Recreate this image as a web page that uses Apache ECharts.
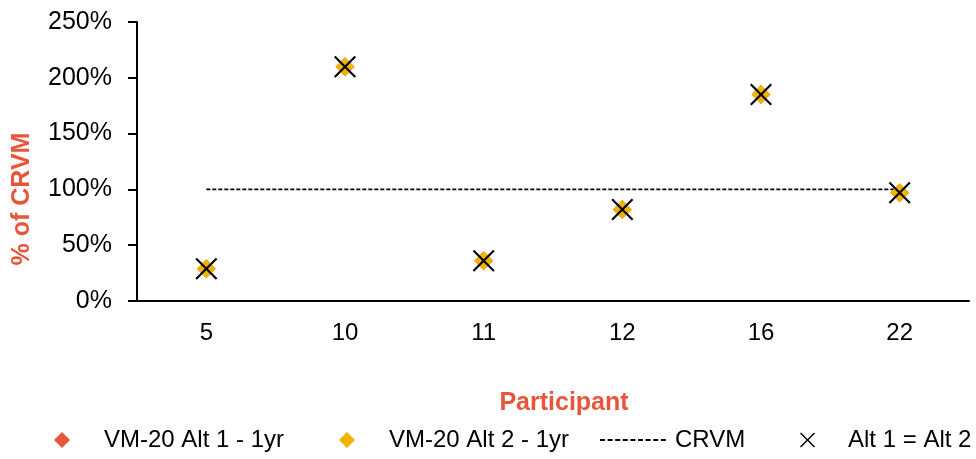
<!DOCTYPE html>
<html>
<head>
<meta charset="utf-8">
<script src="https://cdn.jsdelivr.net/npm/echarts@6/dist/echarts.min.js"></script>
<style>
  html, body { margin: 0; padding: 0; background: #fff; }
  #chart { width: 976px; height: 459px; }
</style>
</head>
<body>
<div id="chart"></div>
<script>
// Participants on the category axis
const participants = ['5', '10', '11', '12', '16', '22'];
// Reserve as a percentage of CRVM
const alt1Values = [29, 210, 36, 82, 185, 97];
const alt2Values = [29, 210, 36, 82, 185, 97];
const sameValues = [29, 210, 36, 82, 185, 97];
const crvmValues = [100, 100, 100, 100, 100, 100];
const yTicks = { min: 0, max: 250, interval: 50 };

const RED = '#E8553A';
const GOLD = '#F0B400';
const FONT = '"Liberation Sans", Arial, sans-serif';

// filled "x" outline used for the Alt 1 = Alt 2 marker
const crossPath = 'path://M0,1.5L1.5,0L11,9.5L20.5,0L22,1.5L12.5,11L22,20.5L20.5,22L11,12.5L1.5,22L0,20.5L9.5,11Z';

// row of short dashes for the CRVM legend key
let dashPath = 'path://';
for (let i = 0; i < 9; i++) {
  const x0 = i * 7.6;
  dashPath += 'M' + x0 + ',0h5v2h-5z';
}

const legendBase = {
  orient: 'horizontal',
  top: 428,
  padding: 0,
  itemHeight: 16,
  itemWidth: 16,
  selectedMode: false,
  textStyle: { fontFamily: FONT, fontSize: 24, color: '#000' }
};

const chart = echarts.init(document.getElementById('chart'));
chart.setOption({
  animation: false,
  backgroundColor: '#fff',
  grid: { left: 137, right: 7, top: 22, bottom: 158 },
  legend: [
    Object.assign({}, legendBase, {
      left: 54,
      data: [{ name: 'VM-20 Alt 1 - 1yr', icon: 'diamond' }],
      textStyle: Object.assign({}, legendBase.textStyle, { padding: [0, 0, 0, 29] })
    }),
    Object.assign({}, legendBase, {
      left: 339,
      data: [{ name: 'VM-20 Alt 2 - 1yr', icon: 'diamond' }],
      textStyle: Object.assign({}, legendBase.textStyle, { padding: [0, 0, 0, 29] })
    }),
    Object.assign({}, legendBase, {
      left: 600,
      itemWidth: 68,
      itemHeight: 2,
      data: [{ name: 'CRVM', icon: dashPath, itemStyle: { color: '#000' } }],
      textStyle: Object.assign({}, legendBase.textStyle, { padding: [0, 0, 0, 3] })
    }),
    Object.assign({}, legendBase, {
      left: 800,
      itemWidth: 15,
      itemHeight: 15,
      data: [{ name: 'Alt 1 = Alt 2', icon: crossPath }],
      textStyle: Object.assign({}, legendBase.textStyle, { padding: [0, 0, 0, 28] })
    })
  ],
  xAxis: {
    type: 'category',
    data: participants,
    boundaryGap: true,
    axisLine: { lineStyle: { color: '#000', width: 2 } },
    axisTick: { show: false },
    axisLabel: { margin: 20, fontFamily: FONT, fontSize: 24, color: '#000' },
    splitLine: { show: false }
  },
  yAxis: {
    type: 'value',
    min: yTicks.min,
    max: yTicks.max,
    interval: yTicks.interval,
    axisLine: { show: true, lineStyle: { color: '#000', width: 2 } },
    axisTick: { show: true, length: 9, lineStyle: { color: '#000', width: 2 } },
    axisLabel: { margin: 25, formatter: '{value}%', fontFamily: FONT, fontSize: 25, color: '#000' },
    splitLine: { show: false }
  },
  graphic: [
    {
      type: 'text',
      x: 22, y: 199,
      rotation: Math.PI / 2,
      style: {
        text: '% of CRVM',
        fill: RED,
        font: 'bold 25px ' + FONT,
        align: 'center',
        verticalAlign: 'middle'
      }
    },
    {
      type: 'text',
      x: 564, y: 403,
      style: {
        text: 'Participant',
        fill: RED,
        font: 'bold 25px ' + FONT,
        align: 'center',
        verticalAlign: 'middle'
      }
    }
  ],
  series: [
    {
      name: 'CRVM',
      type: 'line',
      data: crvmValues,
      symbol: 'none',
      lineStyle: { color: '#000', width: 1.8, type: [4, 2] },
      itemStyle: { color: '#000' },
      z: 1
    },
    {
      name: 'VM-20 Alt 1 - 1yr',
      type: 'scatter',
      data: alt1Values,
      symbol: 'diamond',
      symbolSize: 19,
      itemStyle: { color: RED, opacity: 1 },
      z: 2
    },
    {
      name: 'VM-20 Alt 2 - 1yr',
      type: 'scatter',
      data: alt2Values,
      symbol: 'diamond',
      symbolSize: 19,
      itemStyle: { color: GOLD, opacity: 1 },
      z: 3
    },
    {
      name: 'Alt 1 = Alt 2',
      type: 'scatter',
      data: sameValues,
      symbol: crossPath,
      symbolSize: 22,
      itemStyle: { color: '#000', opacity: 1 },
      z: 4
    }
  ]
});
</script>
</body>
</html>
